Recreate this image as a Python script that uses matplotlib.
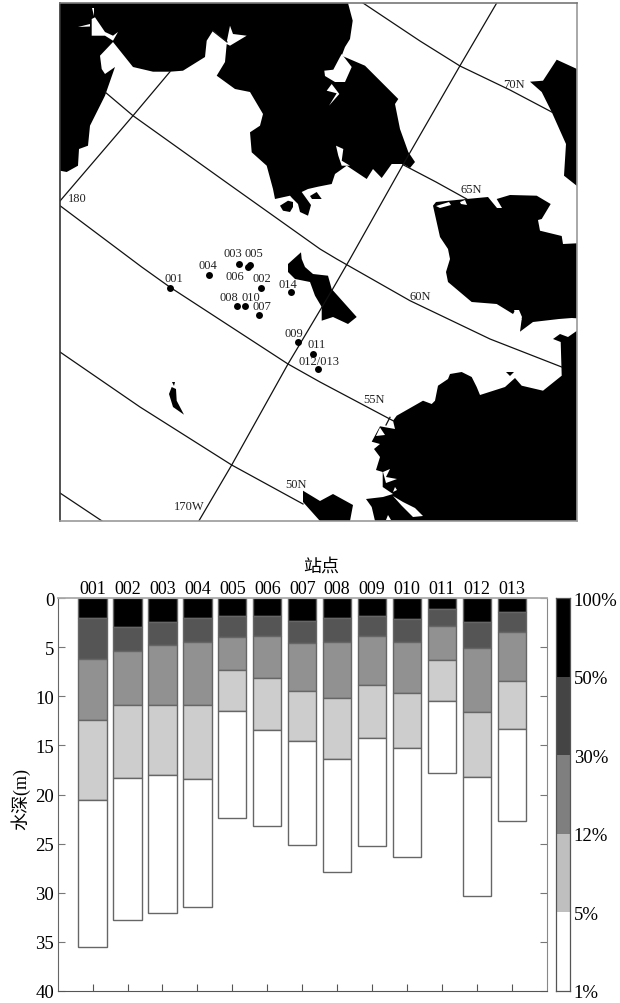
import matplotlib
matplotlib.use('Agg')
from matplotlib import pyplot as plt

plt.rcParams['font.family'] = ['Liberation Serif', 'Noto Sans CJK SC', 'DejaVu Sans']

W, H = 620, 1004

# ---- map data in image pixels
land_north = [(60,4),(348,4),(352.7,21.7),(350,40),(345,48),(341.7,56.7),(365,66.7),(398.3,100),(395,105),
              (400,130),(408.3,153),(415,163),(410,169),(403,165),(391.7,165),(381.7,179),(373,170),(366.7,180),
              (346.7,166.7),(335,175),(331.7,185),(318,187.7),(308,190),(301.7,193),(306,199),(311,206),(308,216.7),
              (300,213),(298,205),(292,199),(290,196.7),(275,200),(273,190),(266.7,166.7),(251.7,153.3),(250,133.3),
              (260,126.7),(263,115),(250,93),(235,90),(216.7,76.7),(225,63),(226.7,45),(230,46.7),(246.7,36.7),
              (233,35),(230,26.7),(226.7,43),(213,31.7),(206.7,41.7),(205,58),(183,71.7),(170,72.7),(153,72.7),
              (133,68),(113,43),(100,56.7),(101.7,70),(105,75),(115,68),(105,96.7),(90,126.7),(88,146.7),(79,150),
              (78,166.7),(66.7,173),(60,171.7)]
land_isle_a = [(280,206.7),(288,201.7),(293,203),(293,208),(290,213),(283,211.7)]
land_isle_b = [(310,197),(316.7,193),(321.7,200),(312,200)]
land_sliver = [(90,110),(91.7,115),(86,128),(87,118)]
land_east = [(530,82.7),(543,81.7),(556.7,60.7),(577,70),(577,187),(564,176.7),(566,145),(551.7,113),(541.7,93)]
land_mid = [(433,206.7),(436,203),(466.7,200),(488,198),(497,209),(502,209),(496.7,200),(510,196),(536.7,196.7),
            (550.7,205),(541.7,220),(538,221),(540,231.7),(561.7,237),(563,245),(577,244.3),(577,319.3),(571.7,319),
            (559,320),(533,323),(520,332.7),(521.7,320),(515,311.7),(513,315),(496.7,305),(471.7,303),(448,283),
            (446,273),(450,260),(448,250),(440,238)]
land_south = [(577,331.7),(568,338),(560,335),(553,340),(560.7,343),(561.7,376.7),(543,391.7),(521.7,386.7),(515,379),
              (505,388),(480,396),(476.7,388),(471.7,378),(461.7,373),(450,375),(448,380),(438,386.7),(435,401.7),
              (431.7,405),(423,401.7),(396.7,416.7),(393,421.7),(395,430),(380,427.3),(371.7,442.7),(380,445),
              (374,450),(380,458),(376,471),(382.7,473),(382.7,488),(393,495),(383,498),(366,500),(371.7,508),
              (375,522),(577,522)]
land_kodiak = [(301,253.3),(288,265),(288,273),(295,280),(310,283),(315,296.7),(321.7,308),(321.7,321.7),(333,318),
               (348,325),(356.7,318),(331.7,290),(328,276.7),(313,275),(305,268),(301.7,260)]
land_small = [(171.7,388),(169,395),(173,408),(184,415.7),(176.7,401.7),(176,390)]
land_tiny = [(172,383),(175,383),(174,387)]
land_bottom = [(303,491.7),(320,502),(333,495),(353,506),(350,522),(320,522),(303,503)]
land_speck = [(506,373),(514,373),(510,377)]
lands = [land_north, land_isle_a, land_isle_b, land_sliver, land_east, land_mid, land_south,
         land_kodiak, land_small, land_tiny, land_bottom, land_speck]

gap_inlet = [(341.7,55),(351.7,68),(345,83),(335,83),(325,77),(324.3,71.7),(333.3,70.7),(340,58)]
gap_strip = [(331.7,85),(339.3,95),(329,106.7),(336.7,94.3),(326.7,91.7)]
gap_strip2 = [(336,146.7),(343.3,150),(341.7,161.7),(350,166.7),(341.7,166.7),(338.3,156.7)]
gap_nw = [(91.7,20),(95,18.3),(105,33),(113,36.7),(118,33),(113,41.7),(105,36.7),(91.7,36.7)]
gap_nw2 = [(78,28),(90,25),(90,27.5)]
gap_nw3 = [(92,9),(93.5,9),(93.5,17)]
gap_se1 = [(380,428.5),(385,436),(376,437)]
gap_se2 = [(393,497),(403,503),(415,509),(423,517),(413,518),(401.7,506.7)]
gap_se3 = [(388,516),(391,521),(386,521)]
gap_se4 = [(383,473),(390,470),(386,478),(397,480),(386,484)]
gap_se5 = [(393,493),(395,488),(397,491)]
gap_mid1 = [(514,311),(519,311),(522,318),(520,325)]
gap_mid2 = [(436,207),(449,203),(451,206),(440,209)]
gap_mid3 = [(460,203),(465,201),(467,206),(461,205)]
gaps = [gap_inlet, gap_strip, gap_strip2, gap_nw, gap_nw2, gap_nw3, gap_se1, gap_se2, gap_se3, gap_se4, gap_se5,
        gap_mid1, gap_mid2, gap_mid3]

lat_70 = [(363,4),(420,42),(460,67),(510,91),(551.7,113)]
lat_65 = [(403,165.7),(436,183),(466.7,200)]
lat_65b = [(213,32),(227,43)]
lat_60 = [(105,93),(133,116.7),(230,186),(320,250),(336.7,260),(410,301.7),(490,340),(561.7,368)]
lat_55 = [(60,206.7),(141.7,268),(169.7,288),(288,365),(320,383),(393,421.7)]
lat_50 = [(60,353),(140,408),(231.7,466),(303,505)]
lat_45 = [(60,494),(102,522)]
lon_180 = [(60,202),(133,116.7),(170,72.7)]
lon_170 = [(199,521.7),(231.7,466),(288,365),(331.7,291.7),(350,260),(403,165.7),(460,66.7),(496.7,4)]
lon_stub = [(390,418.3),(386,426)]
grid_lines = [lat_70, lat_65, lat_65b, lat_60, lat_55, lat_50, lat_45, lon_180, lon_170, lon_stub]

grid_names = ['180', '70N', '65N', '60N', '55N', '50N', '170W']
grid_x = [77, 514, 471, 420, 374, 296, 189]
grid_y = [199, 85, 190, 297, 400, 485, 507]

dot_x = [169.7, 209, 239, 250, 247.7, 261, 291, 236.7, 245, 259, 298.3, 313.3, 318]
dot_y = [288.5, 275.7, 265, 266, 268.3, 288.7, 292.7, 307, 306.7, 315.7, 343, 355, 369.7]
stn_names = ['001', '003', '005', '004', '006', '002', '014', '008', '010', '007', '009', '011', '012/013']
stn_x = [174, 233, 254.3, 208, 235.3, 261.7, 287.7, 229, 250.7, 262, 293.7, 316.3, 319]
stn_y = [279.3, 254.3, 254.3, 266, 276.7, 279, 285, 297.7, 297.7, 307, 333.7, 345.3, 361.7]

# ---- bar data, depth in m
stations = ['001', '002', '003', '004', '005', '006', '007', '008', '009', '010', '011', '012', '013']
depth_50 = [2.0, 3.0, 2.4, 2.0, 1.8, 1.8, 2.3, 2.0, 1.8, 2.1, 1.1, 2.4, 1.4]
depth_30 = [6.2, 5.4, 4.8, 4.5, 4.0, 3.9, 4.6, 4.5, 3.9, 4.5, 2.8, 5.1, 3.5]
depth_12 = [12.4, 10.9, 10.9, 10.9, 7.3, 8.1, 9.5, 10.2, 8.85, 9.66, 6.3, 11.6, 8.4]
depth_5 = [20.6, 18.3, 18.0, 18.4, 11.5, 13.4, 14.6, 16.4, 14.3, 15.3, 10.5, 18.2, 13.3]
depth_1 = [35.5, 32.8, 32.1, 31.5, 22.4, 23.2, 25.1, 27.9, 25.2, 26.4, 17.8, 30.3, 22.7]
layer_colors = ['#000000', '#555555', '#919191', '#cdcdcd', '#ffffff']

scale_labels = ['100%', '50%', '30%', '12%', '5%', '1%']
scale_colors = ['#000000', '#444444', '#7f7f7f', '#bfbfbf', '#ffffff']


def px_axes(fig, left, top, right, bottom):
    return fig.add_axes([left / W, 1 - bottom / H, (right - left) / W, (bottom - top) / H])


fig = plt.figure(figsize=(W / 100, H / 100), dpi=100)

# map
ax = px_axes(fig, 60, 4.3, 577, 521.7)
ax.set_xlim(60, 577)
ax.set_ylim(521.7, 4.3)
ax.set_xticks([])
ax.set_yticks([])
for shape in lands:
    ax.fill([p[0] for p in shape], [p[1] for p in shape], color='k', lw=0, zorder=1)
for shape in gaps:
    ax.fill([p[0] for p in shape], [p[1] for p in shape], color='w', lw=0, zorder=1.5)
for line in grid_lines:
    ax.plot([p[0] for p in line], [p[1] for p in line], color='#111111', lw=0.9, zorder=2)
for name, x, y in zip(grid_names, grid_x, grid_y):
    ax.text(x, y, name, fontsize=9, color='#222222', ha='center', va='center', zorder=3)
ax.plot(dot_x, dot_y, 'o', color='k', ms=5, mew=0, zorder=3)
for name, x, y in zip(stn_names, stn_x, stn_y):
    ax.text(x, y, name, fontsize=9, color='#222222', ha='center', va='center', zorder=4)
ax.spines['left'].set_color('#333333')
ax.spines['top'].set_color('#777777')
ax.spines['right'].set_color('#999999')
ax.spines['bottom'].set_color('#999999')
for s in ax.spines.values():
    s.set_linewidth(1.2)

# stacked bars
ax2 = px_axes(fig, 57.7, 599, 546.7, 992)
ax2.set_xlim(0, 14)
ax2.set_ylim(40, 0)
pos = list(range(1, 14))
layers = [depth_50, depth_30, depth_12, depth_5, depth_1]
prev = [0] * 13
for vals, col in zip(layers, layer_colors):
    ax2.bar(pos, [v - p for v, p in zip(vals, prev)], bottom=prev, width=0.81, color=col,
            edgecolor='#666666', linewidth=1.0)
    prev = vals
ax2.set_xticks(pos)
ax2.set_xticklabels(stations)
ax2.set_yticks(range(0, 41, 5))
ax2.tick_params(axis='x', direction='in', length=5, width=0.8, color='#555555', top=False, bottom=True,
                labeltop=True, labelbottom=False, labelsize=13, pad=1)
ax2.tick_params(axis='y', direction='in', length=5, width=0.8, color='#777777', left=True, right=True,
                labelsize=13.5, pad=2.5)
ax2.spines['top'].set_color('#aaaaaa')
ax2.spines['top'].set_linewidth(1.3)
ax2.spines['left'].set_color('#666666')
ax2.spines['right'].set_color('#888888')
ax2.spines['bottom'].set_color('#555555')
fig.text(321 / W, 1 - 567 / H, '站点', fontsize=13, ha='center', va='center')
fig.text(20 / W, 1 - 799 / H, '水深(m)', fontsize=13, ha='center', va='center', rotation=90)

# grey scale
ax3 = px_axes(fig, 555.7, 599, 569.7, 992)
ax3.set_xlim(0, 1)
ax3.set_ylim(5, 0)
ax3.bar([0.5] * 5, [1] * 5, bottom=range(5), width=1, color=scale_colors, linewidth=0)
ax3.set_xticks([])
ax3.set_yticks(range(6))
ax3.set_yticklabels(scale_labels)
ax3.yaxis.tick_right()
ax3.tick_params(axis='y', length=0, labelsize=13.5, pad=3)
for s in ax3.spines.values():
    s.set_color('#555555')
    s.set_linewidth(0.9)

fig.savefig('out.png', dpi=100, facecolor='white')
